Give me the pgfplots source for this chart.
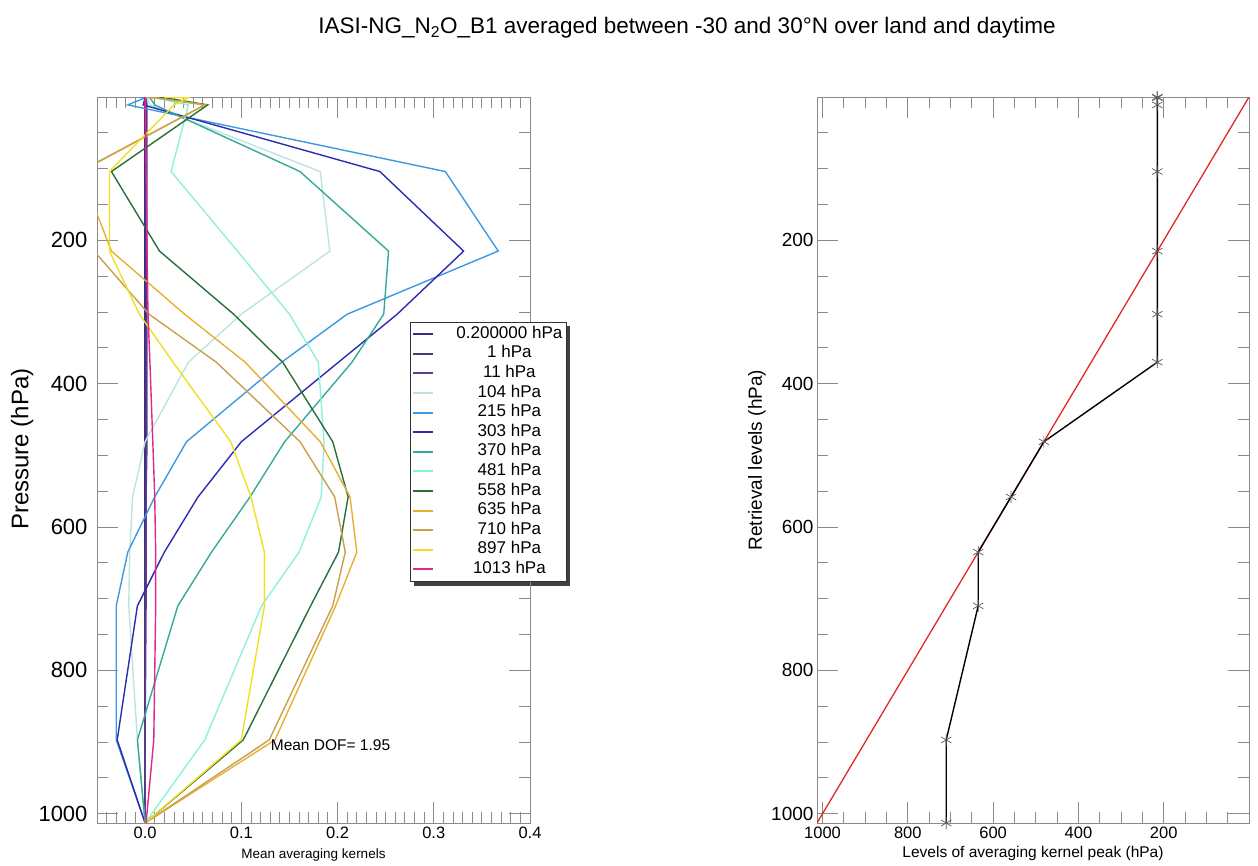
\documentclass[border=0pt]{standalone}
\usepackage{pgfplots}
\pgfplotsset{compat=1.18}
\usepackage{pgfplotstable}
\usepackage{fontspec}
\setmainfont{Liberation Sans}

\definecolor{c02}{HTML}{3A2A8A}
\definecolor{c1}{HTML}{4A3A7A}
\definecolor{c11}{HTML}{5E3C8E}
\definecolor{c104}{HTML}{BCE4DE}
\definecolor{c215}{HTML}{3D9AE0}
\definecolor{c303}{HTML}{2C2CB0}
\definecolor{c370}{HTML}{35AA98}
\definecolor{c481}{HTML}{8EF0DC}
\definecolor{c558}{HTML}{2A6E38}
\definecolor{c635}{HTML}{E8B030}
\definecolor{c710}{HTML}{C8A050}
\definecolor{c897}{HTML}{F0E020}
\definecolor{c1013}{HTML}{E0288C}
\definecolor{frame}{HTML}{8A8A8A}
\definecolor{oneone}{HTML}{E02828}

% mean averaging kernels: p = level (hPa), one column per kernel row
\pgfplotstableread{
p     k02    k1     k11    k104   k215   k303   k370   k481   k558   k635   k710   k897   k1013
0.2   0.000  0.000  0.000  0.000  -0.005 0.000  0.000  0.000  0.000  0.000  0.000  0.020  0.000
1     0.000  0.000  0.001  0.002  0.000  0.000  0.005  0.010  0.020  0.010  0.010  0.045  0.000
11    0.000  0.001  0.002  0.005  -0.018 -0.002 0.010  0.045  0.065  0.062  0.062  0.030  0.000
104   0.000  0.001  0.002  0.182  0.312  0.244  0.161  0.027  -0.035 -0.067 -0.068 -0.037 0.001
215   0.000  0.001  0.002  0.192  0.367  0.331  0.253  0.096  0.015  -0.035 -0.053 -0.037 0.002
303   0.000  0.001  0.002  0.100  0.210  0.262  0.248  0.150  0.092  0.041  0.004  -0.006 0.003
370   0.000  0.001  0.002  0.045  0.142  0.201  0.215  0.180  0.143  0.104  0.074  0.029  0.005
481   0.000  0.001  0.002  0.000  0.043  0.100  0.145  0.186  0.195  0.182  0.161  0.089  0.008
558   0.000  0.001  0.001  -0.013 0.010  0.055  0.109  0.183  0.211  0.213  0.197  0.110  0.010
635   0.000  0.000  0.001  -0.016 -0.018 0.020  0.069  0.160  0.201  0.220  0.208  0.124  0.011
710   0.000  0.000  0.001  -0.017 -0.030 -0.008 0.034  0.121  0.172  0.198  0.195  0.124  0.011
897   0.000  0.000  0.000  -0.008 -0.030 -0.029 -0.008 0.062  0.102  0.135  0.129  0.100  0.009
1013  0.000  0.000  0.000  0.000  0.000  0.000  0.000  0.000  0.000  0.000  0.000  0.000  0.001
}\akdata

% level of averaging kernel peak vs retrieval level
\pgfplotstableread{
peak  level
215   0.2
215   1
215   11
215   104
215   215
215   303
215   370
481   481
558   558
635   635
635   710
710   897
710   1013
}\peakdata

\pgfplotsset{
  common/.style={
    scale only axis,
    anchor=south west,
    height=726pt,
    ymin=0, ymax=1013, y dir=reverse,
    ytick={200,400,600,800,1000},
    minor ytick={50,100,150,250,300,350,450,500,550,650,700,750,850,900,950},
    tick align=inside,
    major tick length=21pt,
    minor tick length=11pt,
    axis line style={frame, line width=1pt},
    every tick/.style={frame, line width=0.9pt},
    every minor tick/.style={frame, line width=0.9pt},
    /pgf/number format/assume math mode=true,
    /pgf/number format/1000 sep={},
  }
}

\begin{document}
\begin{tikzpicture}
\path[use as bounding box] (0pt,0pt) rectangle (1258pt,-865pt);
\node[font=\fontsize{22.5}{26}\selectfont] at (687pt,-28pt)
  {IASI-NG\_N\textsubscript{2}O\_B1 averaged between -30 and 30°N over land and daytime};
% legend drop shadow (drawn behind the white legend box)
\fill[black!75] (413.5pt,-585.5pt) rectangle (569.5pt,-325.5pt);

\begin{axis}[common,
  at={(97pt,-823pt)}, width=433pt,
  xmin=-0.05, xmax=0.4,
  xtick={0,0.1,0.2,0.3,0.4},
  xticklabels={0.0,0.1,0.2,0.3,0.4},
  minor xtick={-0.04,-0.03,...,0.39},
  x tick label style={font=\fontsize{16.5}{19}\selectfont},
  y tick label style={font=\fontsize{22}{25}\selectfont, xshift=-6pt},
  xlabel={Mean averaging kernels},
  xlabel style={font=\fontsize{13.5}{16}\selectfont, at={(axis description cs:0.5,-0.044)}, anchor=center},
  ylabel={Pressure (hPa)},
  ylabel style={font=\fontsize{24}{28}\selectfont, at={(axis description cs:-0.173,0.515)}, anchor=center},
  every axis plot/.append style={no markers, line width=1.4pt},
  legend cell align=center,
  legend image code/.code={\draw[#1,line width=2pt] (0pt,0pt) -- (20pt,0pt);},
  legend style={at={(axis description cs:0.723,0.690)}, anchor=north west,
    draw=black!80, line width=0.8pt, fill=white,
    font=\fontsize{17}{19}\selectfont,
    inner xsep=2pt, inner ysep=2pt, row sep=0pt, column sep=20pt,
    nodes={text height=11.5pt, text depth=3.5pt, inner ysep=2.3pt, inner xsep=2pt}},
]
\addplot[c02]   table[x=k02,  y=p] {\akdata};
\addlegendentry{0.200000 hPa}
\addplot[c1]    table[x=k1,   y=p] {\akdata};
\addlegendentry{1 hPa}
\addplot[c11]   table[x=k11,  y=p] {\akdata};
\addlegendentry{11 hPa}
\addplot[c104]  table[x=k104, y=p] {\akdata};
\addlegendentry{104 hPa}
\addplot[c215]  table[x=k215, y=p] {\akdata};
\addlegendentry{215 hPa}
\addplot[c303]  table[x=k303, y=p] {\akdata};
\addlegendentry{303 hPa}
\addplot[c370]  table[x=k370, y=p] {\akdata};
\addlegendentry{370 hPa}
\addplot[c481]  table[x=k481, y=p] {\akdata};
\addlegendentry{481 hPa}
\addplot[c558]  table[x=k558, y=p] {\akdata};
\addlegendentry{558 hPa}
\addplot[c635]  table[x=k635, y=p] {\akdata};
\addlegendentry{635 hPa}
\addplot[c710]  table[x=k710, y=p] {\akdata};
\addlegendentry{710 hPa}
\addplot[c897]  table[x=k897, y=p] {\akdata};
\addlegendentry{897 hPa}
\addplot[c1013] table[x=k1013,y=p] {\akdata};
\addlegendentry{1013 hPa}
\node[anchor=west, font=\fontsize{15.5}{18}\selectfont] at (axis cs:0.127,904) {Mean DOF= 1.95};
\end{axis}

\begin{axis}[common,
  at={(817pt,-823pt)}, width=432pt,
  xmin=0, xmax=1013, x dir=reverse,
  xtick={200,400,600,800,1000},
  minor xtick={50,100,150,250,300,350,450,500,550,650,700,750,850,900,950},
  x tick label style={font=\fontsize{16.5}{19}\selectfont},
  y tick label style={font=\fontsize{19}{22}\selectfont},
  xlabel={Levels of averaging kernel peak (hPa)},
  xlabel style={font=\fontsize{15.5}{18}\selectfont, at={(axis description cs:0.5,-0.042)}, anchor=center},
  ylabel={Retrieval levels (hPa)},
  ylabel style={font=\fontsize{19}{22}\selectfont, at={(axis description cs:-0.139,0.5)}, anchor=center},
]
\addplot[oneone, line width=1.3pt, no markers] coordinates {(0,0) (1013,1013)};
\addplot[black, line width=1.4pt, mark=asterisk, mark size=6pt,
  mark options={black!65, line width=0.7pt}] table[x=peak, y=level] {\peakdata};
\end{axis}
\end{tikzpicture}
\end{document}
